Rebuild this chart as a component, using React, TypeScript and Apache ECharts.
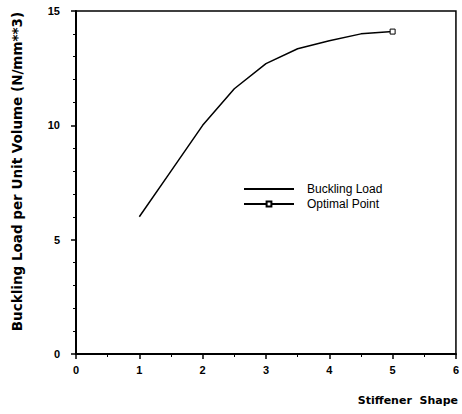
import React, { useEffect, useRef } from "react";
import * as echarts from "echarts";

const shapeX = [1, 1.5, 2, 2.5, 3, 3.5, 4, 4.5, 5];
const loadY = [6.0, 8.0, 10.0, 11.6, 12.7, 13.35, 13.7, 14.0, 14.1];
const optimal = [5, 14.1];
const seriesNames = ["Buckling Load", "Optimal Point"];
const yTitle = "Buckling Load per Unit Volume (N/mm**3)";
const xTitle = "Stiffener  Shape";

export default function App() {
  const ref = useRef<HTMLDivElement>(null);
  useEffect(() => {
    if (!ref.current) return;
    const chart = echarts.init(ref.current, undefined, { renderer: "svg" });
    const font = "'Liberation Sans', Arial, sans-serif";
    chart.setOption({
      animation: false,
      backgroundColor: "#fff",
      grid: {
        left: 76,
        right: 3,
        top: 11,
        bottom: 60,
        show: true,
        borderColor: "#000",
        borderWidth: 1.5,
      },
      legend: {
        orient: "vertical",
        left: 238,
        top: 178,
        itemWidth: 50,
        itemHeight: 6,
        itemGap: 3,
        data: [
          { name: seriesNames[0], itemStyle: { color: "transparent", borderColor: "transparent", borderWidth: 0 } },
          { name: seriesNames[1] },
        ],
        textStyle: { color: "#000", fontFamily: font, fontSize: 12, padding: [0, 0, 0, 8] },
      },
      xAxis: {
        type: "value",
        min: 0,
        max: 6,
        interval: 1,
        splitLine: { show: false },
        axisLine: { lineStyle: { color: "#000", width: 2 } },
        axisTick: { length: 5, lineStyle: { color: "#000", width: 1.5 } },
        minorTick: { show: true, splitNumber: 2, length: 3, lineStyle: { color: "#000", width: 1 } },
        axisLabel: { color: "#000", fontFamily: font, fontWeight: "bold", fontSize: 11, margin: 10 },
      },
      yAxis: {
        type: "value",
        min: 0,
        max: 15,
        interval: 5,
        name: yTitle,
        nameLocation: "middle",
        nameRotate: 90,
        nameGap: 52,
        nameTextStyle: {
          color: "#000",
          fontFamily: "'DejaVu Sans', sans-serif",
          fontWeight: "bold",
          fontSize: 13.5,
          padding: [0, 0, 0, 22],
        },
        splitLine: { show: false },
        axisLine: { lineStyle: { color: "#000", width: 2 } },
        axisTick: { length: 5, lineStyle: { color: "#000", width: 1.5 } },
        minorTick: { show: true, splitNumber: 5, length: 3, lineStyle: { color: "#000", width: 1 } },
        axisLabel: { color: "#000", fontFamily: font, fontWeight: "bold", fontSize: 11, margin: 16 },
      },
      graphic: [
        {
          type: "text",
          right: 4,
          top: 395,
          style: { text: xTitle, fill: "#000", font: "bold 11px 'DejaVu Sans', sans-serif" },
        },
      ],
      series: [
        {
          name: seriesNames[0],
          type: "line",
          data: shapeX.map((x, i) => [x, loadY[i]]),
          symbol: "none",
          lineStyle: { color: "#000", width: 1.5 },
          itemStyle: { color: "#000" },
        },
        {
          name: seriesNames[1],
          type: "line",
          data: [optimal],
          symbol: "rect",
          symbolSize: 5,
          lineStyle: { color: "#000", width: 1.5 },
          itemStyle: { color: "#fff", borderColor: "#000", borderWidth: 1 },
        },
      ],
    });
    return () => chart.dispose();
  }, []);
  return <div ref={ref} style={{ width: 462, height: 414, position: "absolute", left: 0, top: 0 }} />;
}
